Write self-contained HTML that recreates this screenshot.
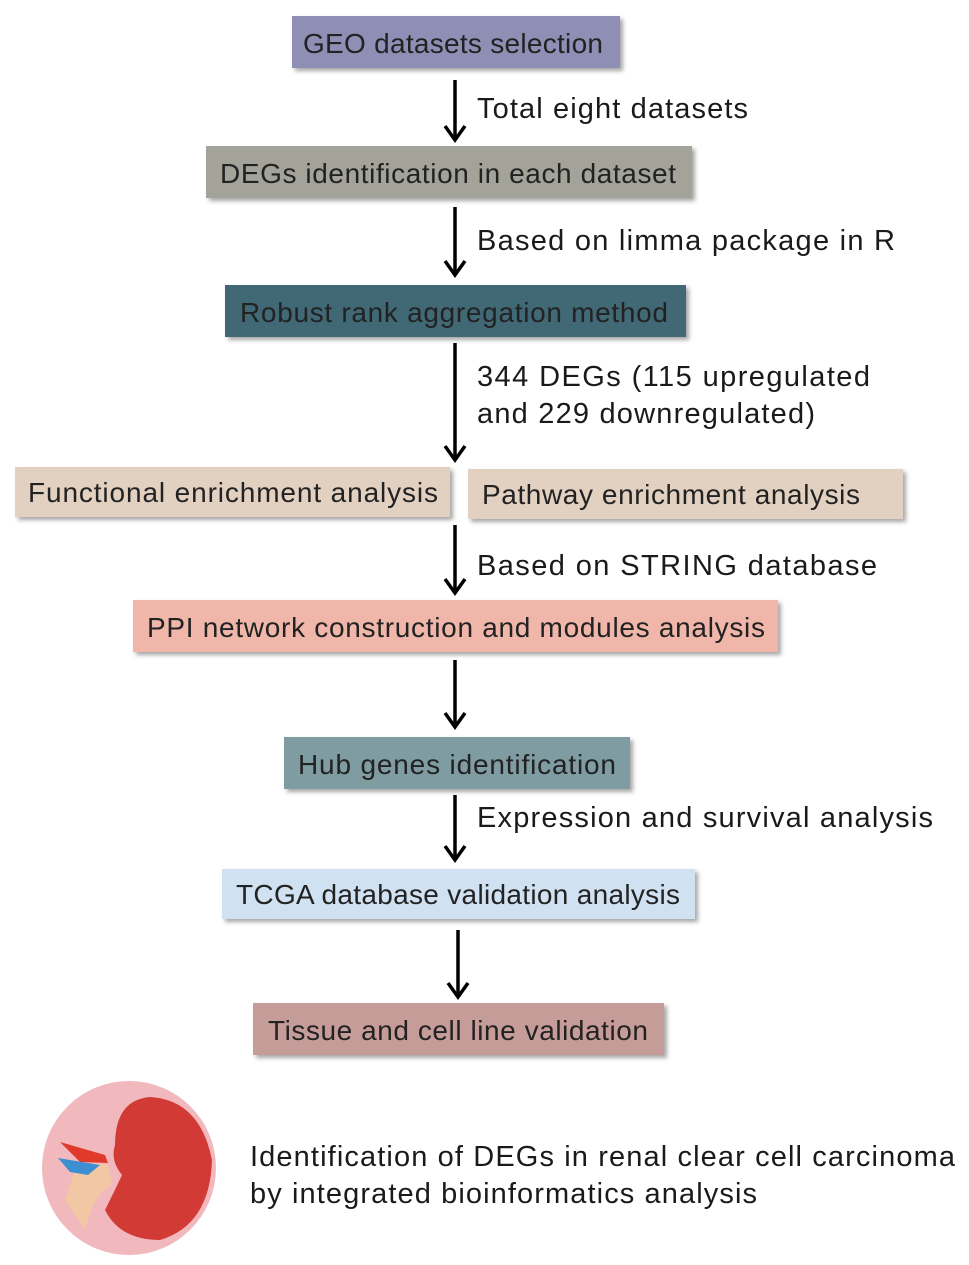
<!DOCTYPE html>
<html><head><meta charset="utf-8"><style>
html,body{margin:0;padding:0;background:#fff;}
svg{display:block;}
.b{font-family:"Liberation Sans",sans-serif;font-size:28px;fill:#222;}
.l{font-family:"Liberation Sans",sans-serif;font-size:29px;fill:#1a1a1a;}
</style></head><body>
<svg width="969" height="1265" viewBox="0 0 969 1265" xmlns="http://www.w3.org/2000/svg">
<defs>
<filter id="s" x="-5%" y="-10%" width="115%" height="140%"><feDropShadow dx="3" dy="3" stdDeviation="2" flood-color="#000" flood-opacity="0.35"/></filter>
</defs>
<g filter="url(#s)">
<rect x="292" y="16" width="328" height="52" fill="#8f8fb6"/>
<rect x="206" y="146" width="486" height="52" fill="#a4a39a"/>
<rect x="225" y="285" width="461" height="52" fill="#3f6874"/>
<rect x="15" y="467" width="435" height="50" fill="#e2d0c1"/>
<rect x="468" y="469" width="435" height="50" fill="#e2d0c1"/>
<rect x="133" y="600" width="645" height="52" fill="#efb6a9"/>
<rect x="284" y="737" width="346" height="52" fill="#7e9ca1"/>
<rect x="222" y="869" width="473" height="50" fill="#d0e2f2"/>
<rect x="253" y="1003" width="411" height="52" fill="#c69c99"/>
</g>
<text class="b" x="303" y="53" textLength="300">GEO datasets selection</text>
<text class="b" x="220" y="183" textLength="456">DEGs identification in each dataset</text>
<text class="b" x="240" y="322" textLength="428">Robust rank aggregation method</text>
<text class="b" x="28" y="502" textLength="410">Functional enrichment analysis</text>
<text class="b" x="482" y="504" textLength="378">Pathway enrichment analysis</text>
<text class="b" x="147" y="637" textLength="618">PPI network construction and modules analysis</text>
<text class="b" x="298" y="774" textLength="318">Hub genes identification</text>
<text class="b" x="236" y="904" textLength="444">TCGA database validation analysis</text>
<text class="b" x="268" y="1040" textLength="380">Tissue and cell line validation</text>
<g stroke="#000" stroke-width="3.5" fill="none" stroke-linejoin="miter">
<line x1="455" y1="80" x2="455" y2="140"/><path d="M445,126 L455,140 L465,126"/>
<line x1="455" y1="207" x2="455" y2="275"/><path d="M445,261 L455,275 L465,261"/>
<line x1="455" y1="343" x2="455" y2="460"/><path d="M445,446 L455,460 L465,446"/>
<line x1="455" y1="525" x2="455" y2="593"/><path d="M445,579 L455,593 L465,579"/>
<line x1="455" y1="660" x2="455" y2="727"/><path d="M445,713 L455,727 L465,713"/>
<line x1="455" y1="795" x2="455" y2="860"/><path d="M445,846 L455,860 L465,846"/>
<line x1="458" y1="930" x2="458" y2="997"/><path d="M448,983 L458,997 L468,983"/>
</g>
<text class="l" x="477" y="118" textLength="271">Total eight datasets</text>
<text class="l" x="477" y="250" textLength="418">Based on limma package in R</text>
<text class="l" x="477" y="386" textLength="393">344 DEGs (115 upregulated</text>
<text class="l" x="477" y="423" textLength="338">and 229 downregulated)</text>
<text class="l" x="477" y="575" textLength="400">Based on STRING database</text>
<text class="l" x="477" y="827" textLength="456">Expression and survival analysis</text>
<text class="l" x="250" y="1166" textLength="705">Identification of DEGs in renal clear cell carcinoma</text>
<text class="l" x="250" y="1203" textLength="507">by integrated bioinformatics analysis</text>
<circle cx="129" cy="1168" r="87" fill="#f1b9bd"/>
<path d="M65,1200 L75,1170 Q90,1160 108,1165 L112,1185 Q95,1190 85,1230 Z" fill="#f2c7a4"/>
<path d="M60,1142 L105,1155 L108,1163 L80,1162 Z" fill="#e03a2c"/>
<path d="M58,1158 L100,1165 L88,1175 L70,1172 Z" fill="#3e8fd2"/>
<path d="M150,1097 Q200,1100 212,1160 Q210,1225 160,1240 Q120,1240 105,1210 Q115,1190 122,1175 Q110,1160 115,1145 Q115,1100 150,1097 Z" fill="#d23a35"/>
</svg>
</body></html>
